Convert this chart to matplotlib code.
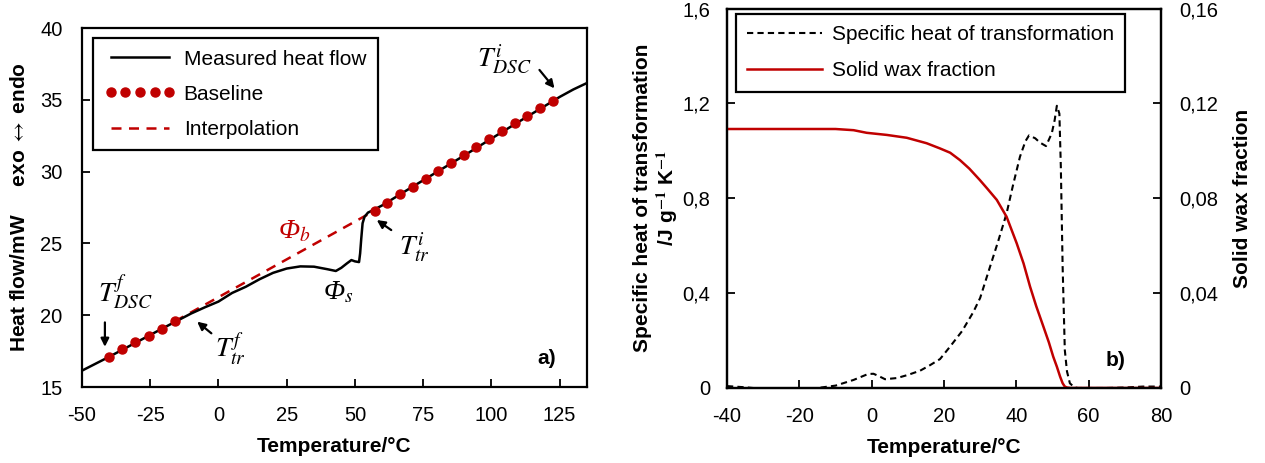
import matplotlib
matplotlib.use("Agg")
import matplotlib.pyplot as plt
from matplotlib.lines import Line2D

plt.rcParams['font.family'] = ['Liberation Sans', 'DejaVu Sans']
plt.rcParams['mathtext.fontset'] = 'stix'
plt.rcParams['axes.unicode_minus'] = False

RED = '#C00000'

# ---------------- Panel a) data ----------------
hf_temp = [-50, -40, -30, -20, -10, -5, 0, 5, 10, 15, 20, 25, 30, 35, 40, 43, 45, 47,
           48.7, 50, 51.5, 51.9, 52.3, 52.8, 53.5, 54.8, 56.5, 60, 70, 80, 90, 100,
           110, 120, 125, 130, 135]
hf_value = [16.14, 17.11, 18.12, 19.13, 20.12, 20.55, 20.95, 21.55, 21.98, 22.5, 22.95,
            23.25, 23.4, 23.38, 23.2, 23.08, 23.3, 23.6, 23.84, 23.75, 23.7, 24.3, 25.3,
            26.4, 26.85, 27.15, 27.3, 27.65, 28.82, 29.97, 31.12, 32.3, 33.47, 34.62,
            35.2, 35.72, 36.17]

base_low_temp = [-40.0, -35.2, -30.4, -25.6, -20.8, -16.0]
base_low_value = [17.11, 17.62, 18.11, 18.57, 19.06, 19.57]
base_high_temp = [57.2, 61.9, 66.5, 71.2, 75.9, 80.5, 85.2, 89.9, 94.5, 99.2, 103.9,
                  108.6, 113.2, 117.9, 122.6]
base_high_value = [27.28, 27.83, 28.41, 28.94, 29.48, 30.04, 30.59, 31.15, 31.71, 32.24,
                   32.80, 33.36, 33.89, 34.43, 34.94]
interp_temp = [-16.0, 57.2]
interp_value = [19.57, 27.28]

a_xticks = [-50, -25, 0, 25, 50, 75, 100, 125]
a_yticks = [15, 20, 25, 30, 35, 40]

# ---------------- Panel b) data ----------------
cp_temp = [-40, -35, -30, -25, -20, -15, -10, -5, -1, 0.5, 2, 3.7, 7, 10, 13.4, 16, 18.9,
           21.7, 25, 28.1, 30, 32.7, 35, 37.3, 39, 41, 42.5, 43.5, 45.2, 46.5, 48.2, 49.8,
           50.6, 51.2, 51.9, 52.3, 52.8, 53.4, 54.0, 54.8, 56, 57, 60, 65, 70, 75, 78, 80]
cp_value = [0.008, 0.003, -0.004, -0.004, -0.003, 0.0, 0.01, 0.034, 0.059, 0.06, 0.05,
            0.037, 0.042, 0.055, 0.073, 0.095, 0.122, 0.175, 0.24, 0.32, 0.38, 0.51, 0.62,
            0.736, 0.85, 0.975, 1.04, 1.065, 1.053, 1.035, 1.02, 1.074, 1.13, 1.19, 1.157,
            0.933, 0.51, 0.16, 0.07, 0.02, 0.003, 0.0, 0.0, 0.0, 0.002, 0.006, 0.006, 0.006]

wax_temp = [-40, -30, -20, -10, -5, -1.4, 4.2, 9.7, 15.2, 18.9, 21.7, 24.4, 27, 29.9, 32,
            34.6, 37.3, 40.1, 42, 43.8, 45.5, 47.5, 49, 50.2, 51.2, 52.1, 52.8, 53.4, 54,
            55, 60, 70, 80]
wax_value = [0.1092, 0.1092, 0.1092, 0.1092, 0.1087, 0.1076, 0.1067, 0.1055, 0.1032,
             0.101, 0.0992, 0.0961, 0.0925, 0.0877, 0.0840, 0.0793, 0.0722, 0.061, 0.0525,
             0.0427, 0.0345, 0.0258, 0.0192, 0.0132, 0.0090, 0.0048, 0.0020, 0.0006,
             0.0002, 0, 0, 0, 0]

b_xticks = [-40, -20, 0, 20, 40, 60, 80]
b_yticks = [0, 0.4, 0.8, 1.2, 1.6]
b_yticklabels = ['0', '0,4', '0,8', '1,2', '1,6']
b_y2ticks = [0, 0.04, 0.08, 0.12, 0.16]
b_y2ticklabels = ['0', '0,04', '0,08', '0,12', '0,16']

# ---------------- Figure ----------------
fig = plt.figure(figsize=(12.65, 4.63), dpi=100)
axa = fig.add_axes([0.0648, 0.1641, 0.3992, 0.7754])
axb = fig.add_axes([0.5747, 0.162, 0.3431, 0.8196])

TICK_FS = 14.5
LAB_FS = 15
LEG_FS = 15
SPINE_W = 1.6


def style_axes(ax, pad_x=14, pad_y=13):
    for s in ax.spines.values():
        s.set_linewidth(SPINE_W)
    ax.tick_params(direction='in', length=6, width=1.3, labelsize=TICK_FS)
    ax.tick_params(axis='x', pad=pad_x)
    ax.tick_params(axis='y', pad=pad_y)


# Panel a
axa.plot(hf_temp, hf_value, color='black', lw=1.8, zorder=3)
axa.plot(interp_temp, interp_value, color=RED, lw=1.8, ls=(0, (4, 3)), zorder=2)
axa.plot(base_low_temp, base_low_value, ls='none', marker='o', ms=6.5, color=RED, zorder=4)
axa.plot(base_high_temp, base_high_value, ls='none', marker='o', ms=6.5, color=RED, zorder=4)
axa.set_xlim(-50, 135)
axa.set_ylim(15, 40)
axa.set_xticks(a_xticks)
axa.set_yticks(a_yticks)
style_axes(axa, pad_x=14, pad_y=14)
axa.set_xlabel('Temperature/°C', fontsize=LAB_FS, fontweight='bold', labelpad=8)
axa.set_ylabel('Heat flow/mW     exo $\\leftrightarrow$ endo', fontsize=LAB_FS,
               fontweight='bold', labelpad=8)

h_meas = Line2D([], [], color='black', lw=1.8)
h_base = Line2D([], [], ls='none', marker='o', ms=6.5, color=RED)
h_int = Line2D([], [], color=RED, lw=1.8, ls=(0, (4, 3)))
lega = axa.legend([h_meas, h_base, h_int], ['Measured heat flow', 'Baseline', 'Interpolation'],
                  loc='upper left', bbox_to_anchor=(0.022, 0.972), borderaxespad=0,
                  fontsize=LEG_FS, fancybox=False, edgecolor='black', framealpha=1,
                  handlelength=3.4, numpoints=5, labelspacing=0.78, handletextpad=0.4,
                  borderpad=0.55)
lega.get_frame().set_linewidth(1.6)

MATH_FS = 20
axa.text(-34.3, 21.6, r'$T_{DSC}^{f}$', fontsize=MATH_FS, ha='center', va='center')
axa.text(4.5, 17.6, r'$T_{tr}^{f}$', fontsize=MATH_FS, ha='center', va='center')
axa.text(71.8, 24.7, r'$T_{tr}^{i}$', fontsize=MATH_FS, ha='center', va='center')
axa.text(104.9, 37.75, r'$T_{DSC}^{i}$', fontsize=MATH_FS, ha='center', va='center')
axa.text(27.9, 25.85, '\u03a6$_{b}$', fontsize=MATH_FS, ha='center', va='center',
         color=RED, family='Liberation Serif', style='italic')
axa.text(44.0, 21.6, '\u03a6$_{s}$', fontsize=MATH_FS, ha='center', va='center',
         family='Liberation Serif', style='italic')
arr = dict(arrowstyle='-|>', color='black', lw=1.6, mutation_scale=12, shrinkA=0, shrinkB=0)
axa.annotate('', xy=(-41.6, 17.8), xytext=(-41.6, 19.5), arrowprops=arr)
axa.annotate('', xy=(-7.8, 19.55), xytext=(-2.6, 18.74), arrowprops=arr)
axa.annotate('', xy=(58.0, 26.63), xytext=(63.3, 25.93), arrowprops=arr)
axa.annotate('', xy=(123.1, 35.8), xytext=(117.6, 37.08), arrowprops=arr)
axa.text(120.3, 17.0, 'a)', fontsize=15, fontweight='bold', ha='center', va='center')

# Panel b
axb2 = axb.twinx()
l_cp, = axb.plot(cp_temp, cp_value, color='black', lw=1.5, ls=(0, (3, 2)))
l_wax, = axb2.plot(wax_temp, wax_value, color=RED, lw=1.8)
axb.set_xlim(-40, 80)
axb.set_ylim(0, 1.6)
axb2.set_ylim(0, 0.16)
axb.set_xticks(b_xticks)
axb.set_yticks(b_yticks)
axb.set_yticklabels(b_yticklabels)
axb2.set_yticks(b_y2ticks)
axb2.set_yticklabels(b_y2ticklabels)
style_axes(axb, pad_x=14, pad_y=12)
style_axes(axb2, pad_x=14, pad_y=13)
axb.set_xlabel('Temperature/°C', fontsize=LAB_FS, fontweight='bold', labelpad=8)
axb.set_ylabel('Specific heat of transformation\n/J g$^{\\mathbf{-1}}$ K$^{\\mathbf{-1}}$',
               fontsize=LAB_FS, fontweight='bold', labelpad=2, linespacing=1.1)
axb2.set_ylabel('Solid wax fraction', fontsize=LAB_FS, fontweight='bold', labelpad=11)

legb = axb2.legend([l_cp, l_wax], ['Specific heat of transformation', 'Solid wax fraction'],
                   loc='upper left', bbox_to_anchor=(0.0207, 0.9855), borderaxespad=0,
                   fontsize=LEG_FS, fancybox=False, edgecolor='black', framealpha=1,
                   handlelength=3.6, labelspacing=0.8, handletextpad=0.45, borderpad=0.55)
legb.get_frame().set_linewidth(1.6)
axb2.text(67.5, 0.0118, 'b)', fontsize=15, fontweight='bold', ha='center', va='center')

fig.savefig('out.png', dpi=100)
